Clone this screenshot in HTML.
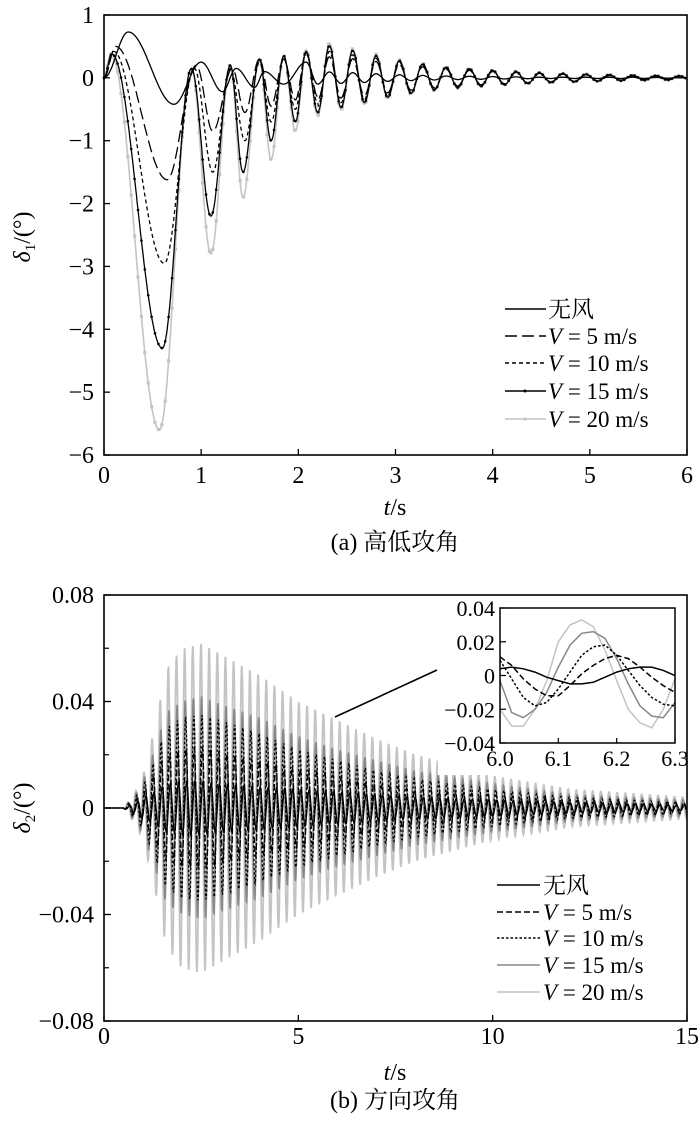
<!DOCTYPE html>
<html><head><meta charset="utf-8"><style>
body{margin:0;background:#fff}
svg{display:block}
text{font-family:"Liberation Serif","Noto Serif CJK SC","Noto Sans CJK SC",serif;fill:#000}
</style></head><body>
<svg id="fig" width="700" height="1122" viewBox="0 0 700 1122" xmlns="http://www.w3.org/2000/svg">
<g id="chartA"></g>
<g id="chartB"></g>
</svg>
<script>
// ---------- chart (a) data ----------
const aXTicks=[0,1,2,3,4,5,6];
const aYTicks=[1,0,-1,-2,-3,-4,-5,-6];
const aNames=["无风","V = 5 m/s","V = 10 m/s","V = 15 m/s","V = 20 m/s"];
const aT0=[0,0.25,0.72,1.0,1.22,1.36,1.55,1.65,1.85,2.08,2.2];
const aV0=[0,0.73,-0.42,0.25,-0.22,0.15,-0.15,0.1,-0.1,0.25,-0.1];
const aT1=[0,0.12,0.65,0.95,1.12,1.32,1.45,1.6,1.72,1.85,1.97,2.08,2.2];
const aV1=[0,0.5,-1.62,0.2,-0.85,0.15,-0.55,0.3,-0.45,0.3,-0.35,0.4,-0.3];
const aT2=[0,0.1,0.62,0.93,1.12,1.3,1.45,1.6,1.72,1.85,1.97,2.08,2.2];
const aV2=[0,0.42,-2.95,0.15,-1.5,0.15,-1.0,0.25,-0.7,0.3,-0.5,0.4,-0.4];
const aT3=[0,0.08,0.6,0.9,1.1,1.3,1.43,1.6,1.72,1.85,1.97,2.08,2.2];
const aV3=[0,0.38,-4.3,0.15,-2.2,0.2,-1.5,0.3,-1.0,0.35,-0.7,0.42,-0.55];
const aT4=[0,0.07,0.57,0.9,1.1,1.3,1.43,1.6,1.72,1.85,1.97,2.08,2.2];
const aV4=[0,0.38,-5.6,0.15,-2.8,0.2,-1.9,0.3,-1.3,0.35,-0.85,0.45,-0.6];
const aTailT=[2.2,2.6,3,3.5,4,4.5,5,5.5,6];
const aTail0=[0.1,0.08,0.05,0.03,0.02,0.01,0.01,0.01,0.0];
const aTail1=[0.35,0.3,0.22,0.14,0.1,0.07,0.05,0.03,0.02];
const aTail2=[0.45,0.36,0.26,0.16,0.11,0.07,0.05,0.035,0.025];
const aTail3=[0.55,0.42,0.28,0.17,0.12,0.08,0.055,0.04,0.03];
const aTail4=[0.6,0.45,0.3,0.18,0.12,0.08,0.06,0.04,0.03];
// ---------- chart (b) data ----------
const bXTicks=[0,5,10,15];
const bYTicks=[0.08,0.04,0,-0.04,-0.08];
const bYLabels=["0.08","0.04","0","\u22120.04","\u22120.08"];
const bEnvT=[0,0.5,0.8,1.0,1.3,1.6,2.0,2.5,3,4,5,6,7,8,10,12,15];
const bAmp4=[0,0,0.006,0.012,0.03,0.052,0.06,0.062,0.058,0.05,0.04,0.033,0.026,0.02,0.012,0.007,0.004];
const bAmp3=[0,0,0.005,0.01,0.022,0.036,0.04,0.042,0.039,0.034,0.027,0.022,0.018,0.014,0.009,0.005,0.003];
const bAmp2=[0,0,0.004,0.008,0.018,0.03,0.034,0.035,0.033,0.028,0.022,0.018,0.014,0.011,0.007,0.004,0.002];
const bAmp1=[0,0,0.003,0.006,0.013,0.02,0.022,0.023,0.021,0.018,0.015,0.012,0.009,0.007,0.005,0.003,0.002];
const bAmp0=[0,0,0.002,0.004,0.006,0.009,0.01,0.01,0.009,0.008,0.007,0.006,0.005,0.004,0.003,0.002,0.001];
const bPeriod=0.21;
const bPhase=[0.5,0.35,0.25,0.15,0.0];
const iT=[6.00,6.02,6.04,6.06,6.08,6.10,6.12,6.14,6.16,6.18,6.20,6.22,6.24,6.26,6.28,6.30];
const i4=[-0.02,-0.03,-0.03,-0.02,-0.003,0.02,0.03,0.033,0.029,0.015,-0.003,-0.02,-0.028,-0.031,-0.02,-0.002];
const i3=[-0.003,-0.022,-0.025,-0.02,-0.01,0.005,0.018,0.025,0.026,0.022,0.01,-0.005,-0.018,-0.024,-0.025,-0.016];
const i2=[0.009,-0.002,-0.013,-0.018,-0.016,-0.008,0.002,0.012,0.017,0.018,0.012,0.003,-0.006,-0.013,-0.017,-0.018];
const i1=[0.011,0.006,-0.002,-0.008,-0.012,-0.012,-0.006,0.001,0.006,0.01,0.012,0.01,0.005,-0.001,-0.006,-0.01];
const i0=[0.004,0.005,0.004,0.002,-0.001,-0.003,-0.005,-0.005,-0.004,-0.001,0.002,0.004,0.005,0.005,0.003,0.0];
const iXTicks=[6.0,6.1,6.2,6.3];
const iYTicks=[0.04,0.02,0,-0.02,-0.04];
const iYLabels=["0.04","0.02","0","\u22120.02","\u22120.04"];

const NS="http://www.w3.org/2000/svg";
function mk(p,tag,at){const e=document.createElementNS(NS,tag);for(const k in at)e.setAttribute(k,at[k]);p.appendChild(e);return e;}
function lin(xs,ys,t){if(t<=xs[0])return ys[0];for(let i=1;i<xs.length;i++){if(t<=xs[i]){const f=(t-xs[i-1])/(xs[i]-xs[i-1]);return ys[i-1]+(ys[i]-ys[i-1])*f;}}return ys[ys.length-1];}
function cosInterp(xs,ys,t){for(let i=1;i<xs.length;i++){if(t<=xs[i]){const f=(t-xs[i-1])/(xs[i]-xs[i-1]);return ys[i-1]+(ys[i]-ys[i-1])*(1-Math.cos(Math.PI*f))/2;}}return ys[ys.length-1];}

// ================= chart (a) =================
const gA=document.getElementById('chartA');
const aL=104,aR=687,aTop=15,aBot=455;
const ax=v=>aL+(v-0)/(6-0)*(aR-aL);
const ay=v=>aTop+(1-v)/(1-(-6))*(aBot-aTop);
function aVal(T,V,tail,t){
  const tEnd=T[T.length-1];
  if(t<=tEnd)return cosInterp(T,V,t);
  const half=0.12;const k=(t-tEnd)/half;const n=Math.floor(k);const f=k-n;
  const last=V[V.length-1]<0?-1:1;
  const s0=(n%2===0)?last:-last, s1=-s0;
  const v0=s0*lin(aTailT,tail,tEnd+n*half), v1=s1*lin(aTailT,tail,tEnd+(n+1)*half);
  return v0+(v1-v0)*(1-Math.cos(Math.PI*f))/2;
}
const aSeries=[[aT0,aV0,aTail0],[aT1,aV1,aTail1],[aT2,aV2,aTail2],[aT3,aV3,aTail3],[aT4,aV4,aTail4]];
const aStyles=[{c:"#000",d:""},{c:"#000",d:"12 5"},{c:"#000",d:"4 3"},{c:"#000",d:""},{c:"#c4c4c4",d:""}];
const aOrder=[4,3,2,1,0];
aOrder.forEach(si=>{
  const [T,V,tail]=aSeries[si];let d="";
  for(let t=0;t<=6.0001;t+=0.005){d+=(d?"L":"M")+ax(t).toFixed(1)+","+ay(aVal(T,V,tail,t)).toFixed(1);}
  const p=mk(gA,'path',{d:d,fill:"none",stroke:aStyles[si].c,"stroke-width":si===4?1.6:1.3,"stroke-dasharray":aStyles[si].d});
  
  
  if(si>=3){
    for(let t=0;t<=6.0001;t+=0.035){
      const m=si===4?mk(gA,'rect',{x:ax(t)-1.6,y:ay(aVal(T,V,tail,t))-1.6,width:3.2,height:3.2,fill:"#c4c4c4"}):mk(gA,'circle',{cx:ax(t),cy:ay(aVal(T,V,tail,t)),r:1.3,fill:"#000"});
      
      
    }
  }
});
mk(gA,'rect',{x:aL,y:aTop,width:aR-aL,height:aBot-aTop,fill:"none",stroke:"#000","stroke-width":1.6});
aXTicks.forEach(v=>{
  mk(gA,'line',{x1:ax(v),x2:ax(v),y1:aBot,y2:aBot-6,stroke:"#000","stroke-width":1.3});
  const t=mk(gA,'text',{x:ax(v),y:aBot+28,"font-size":24,"text-anchor":"middle"});t.textContent=v;
  
  
});
aYTicks.forEach(v=>{
  mk(gA,'line',{x1:aL,x2:aL+6,y1:ay(v),y2:ay(v),stroke:"#000","stroke-width":1.3});
  const t=mk(gA,'text',{x:aL-10,y:ay(v)+8,"font-size":24,"text-anchor":"end"});t.textContent=v<0?"\u2212"+(-v):v;
  
  
});
gA.insertAdjacentHTML('beforeend',
 '<text transform="translate(30,237) rotate(-90)" font-size="24" text-anchor="middle"><tspan font-style="italic">δ</tspan><tspan font-size="15" dy="5">1</tspan><tspan dy="-5">/(°)</tspan></text>'+
 '<text x="395" y="515" font-size="24" text-anchor="middle"><tspan font-style="italic">t</tspan>/s</text>'+
 '<text x="395" y="550" font-size="24" text-anchor="middle">(a) 高低攻角</text>');
const aLegY=[309,336,363,391,419];
aNames.forEach((n,i)=>{
  const y=aLegY[i];
  const g=mk(gA,'g',{});
  
  
  mk(g,'line',{x1:505,x2:546,y1:y,y2:y,stroke:aStyles[i].c,"stroke-width":1.4,"stroke-dasharray":aStyles[i].d});
  if(i===3)mk(g,'circle',{cx:525,cy:y,r:1.5,fill:"#000"});
  if(i===4)mk(g,'rect',{x:523.5,y:y-1.5,width:3,height:3,fill:"#c4c4c4"});
  const t=mk(g,'text',{x:548,y:y+8,"font-size":23});
  if(i===0)t.textContent=n;else t.innerHTML='<tspan font-style="italic">V</tspan>'+n.slice(1);
});

// ================= chart (b) =================
const gB=document.getElementById('chartB');
const bL=104,bR=687,bTop=595,bBot=1021;
const bx=v=>bL+v/15*(bR-bL);
const by=v=>bTop+(0.08-v)/0.16*(bBot-bTop);
const bAmps=[bAmp0,bAmp1,bAmp2,bAmp3,bAmp4];
const bStyles=[{c:"#000",d:"",w:1.3},{c:"#000",d:"6 3",w:1.3},{c:"#000",d:"2.5 2",w:1.3},{c:"#888",d:"",w:1.5},{c:"#c4c4c4",d:"",w:1.8}];
const bNames=["无风","V = 5 m/s","V = 10 m/s","V = 15 m/s","V = 20 m/s"];
const clip=mk(gB,'clipPath',{id:"bclip"});mk(clip,'rect',{x:bL,y:bTop,width:bR-bL,height:bBot-bTop});
[4,3,2,1,0].forEach(si=>{
  let d="";
  for(let t=0;t<=15.0001;t+=0.01){
    const A=lin(bEnvT,bAmps[si],t);
    const v=t<0.5?0:-A*Math.cos(2*Math.PI*((t-0.5)/bPeriod-bPhase[si]*0.5));
    d+=(d?"L":"M")+bx(t).toFixed(1)+","+by(v).toFixed(1);
  }
  const p=mk(gB,'path',{d:d,fill:"none",stroke:bStyles[si].c,"stroke-width":bStyles[si].w,"stroke-dasharray":bStyles[si].d,"clip-path":"url(#bclip)"});
  
  
});
mk(gB,'rect',{x:bL,y:bTop,width:bR-bL,height:bBot-bTop,fill:"none",stroke:"#000","stroke-width":1.6});
bXTicks.forEach(v=>{
  mk(gB,'line',{x1:bx(v),x2:bx(v),y1:bBot,y2:bBot-6,stroke:"#000","stroke-width":1.3});
  const t=mk(gB,'text',{x:bx(v),y:bBot+23,"font-size":24,"text-anchor":"middle"});t.textContent=v;
  
  
});
[0.06,0.02,-0.02,-0.06].forEach(v=>mk(gB,'line',{x1:bL,x2:bL+5,y1:by(v),y2:by(v),stroke:"#000","stroke-width":1.2}));
bYTicks.forEach((v,i)=>{
  mk(gB,'line',{x1:bL,x2:bL+7,y1:by(v),y2:by(v),stroke:"#000","stroke-width":1.3});
  const t=mk(gB,'text',{x:bL-10,y:by(v)+8,"font-size":24,"text-anchor":"end"});t.textContent=bYLabels[i];
  
  
});
gB.insertAdjacentHTML('beforeend',
 '<text transform="translate(30,808) rotate(-90)" font-size="24" text-anchor="middle"><tspan font-style="italic">δ</tspan><tspan font-size="15" dy="5">2</tspan><tspan dy="-5">/(°)</tspan></text>'+
 '<text x="395" y="1080" font-size="24" text-anchor="middle"><tspan font-style="italic">t</tspan>/s</text>'+
 '<text x="395" y="1108" font-size="24" text-anchor="middle">(b) 方向攻角</text>'+
 '<line x1="335" y1="717" x2="437" y2="670" stroke="#000" stroke-width="1.6"/>');
const bLegY=[885,912,938,965,992];
bNames.forEach((n,i)=>{
  const y=bLegY[i];
  const g=mk(gB,'g',{});
  
  
  mk(g,'line',{x1:497,x2:540,y1:y,y2:y,stroke:bStyles[i].c,"stroke-width":1.6,"stroke-dasharray":bStyles[i].d});
  const t=mk(g,'text',{x:543,y:y+8,"font-size":23});
  if(i===0)t.textContent=n;else t.innerHTML='<tspan font-style="italic">V</tspan>'+n.slice(1);
});
// inset
const ins=mk(gB,'g',{});


const iL=500,iR=675,iTop=608,iBot=743;
mk(ins,'rect',{x:iL-62,y:iTop-8,width:iR-iL+67,height:iBot-iTop+40,fill:"#fff"});
const ix=v=>iL+(v-6.0)/0.3*(iR-iL);
const iy=v=>iTop+(0.04-v)/0.08*(iBot-iTop);
const iSeries=[i0,i1,i2,i3,i4];
[4,3,2,1,0].forEach(si=>{
  const d=iT.map((t,k)=>(k?"L":"M")+ix(t).toFixed(1)+","+iy(iSeries[si][k]).toFixed(1)).join("");
  const p=mk(ins,'path',{d:d,fill:"none",stroke:bStyles[si].c,"stroke-width":1.5,"stroke-dasharray":bStyles[si].d});
  
  
});
mk(ins,'rect',{x:iL,y:iTop,width:iR-iL,height:iBot-iTop,fill:"none",stroke:"#000","stroke-width":1.5});
iXTicks.forEach(v=>{
  mk(ins,'line',{x1:ix(v),x2:ix(v),y1:iBot,y2:iBot-5,stroke:"#000","stroke-width":1.2});
  const t=mk(ins,'text',{x:ix(v),y:iBot+23,"font-size":22,"text-anchor":"middle"});t.textContent=v.toFixed(1);
  
  
});
iYTicks.forEach((v,i)=>{
  mk(ins,'line',{x1:iL,x2:iL+6,y1:iy(v),y2:iy(v),stroke:"#000","stroke-width":1.2});
  const t=mk(ins,'text',{x:iL-5,y:iy(v)+8,"font-size":22,"text-anchor":"end"});t.textContent=iYLabels[i];
  
  
});
</script>
</body></html>
